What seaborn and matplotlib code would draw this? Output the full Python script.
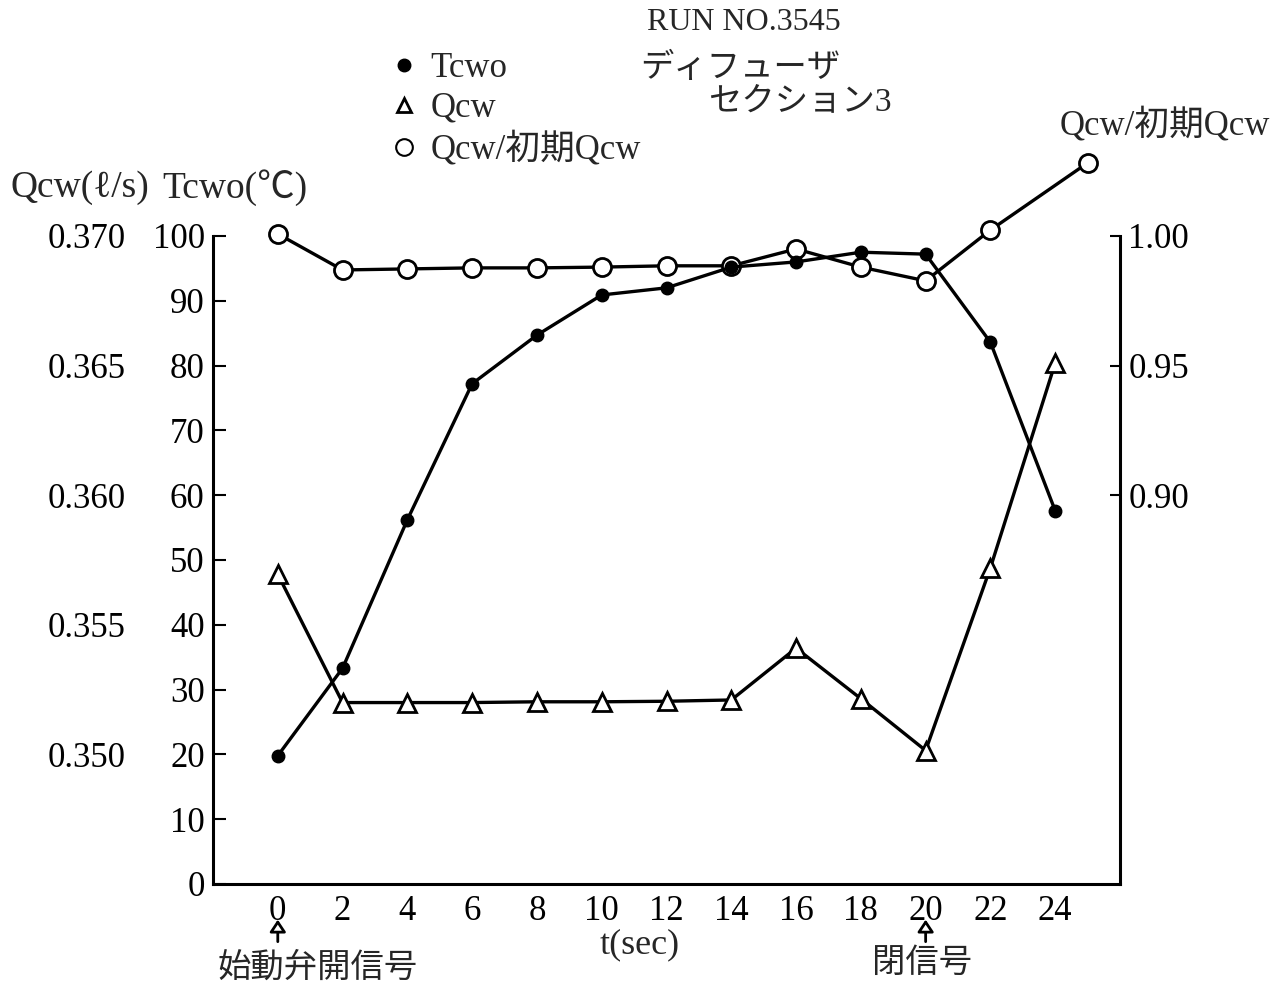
import matplotlib
matplotlib.use("Agg")
import matplotlib.pyplot as plt
from matplotlib.lines import Line2D
import seaborn as sns

# ---- data ----
t_sec = [0, 2, 4, 6, 8, 10, 12, 14, 16, 18, 20, 22, 24]
tcwo = [19.8, 33.3, 56.2, 77.2, 84.7, 90.9, 92.0, 95.2, 96.0, 97.5, 97.2, 83.6, 57.6]
qcw = [0.35695, 0.3520, 0.3520, 0.3520, 0.35203, 0.35203, 0.35205, 0.3521,
       0.3541, 0.35215, 0.35015, 0.3572, 0.3651]
t_ratio = [0, 2, 4, 6, 8, 10, 12, 14, 16, 18, 20, 22, 25]
ratio = [1.0008, 0.9869, 0.9873, 0.9877, 0.9877, 0.9880, 0.9885, 0.9885,
         0.9950, 0.9880, 0.9827, 1.0023, 1.0282]

x_ticks = list(range(0, 25, 2))
t_ticks = list(range(0, 101, 10))
q_ticks = [0.350, 0.355, 0.360, 0.365, 0.370]
r_ticks = [0.90, 0.95, 1.00]

sns.set_style("white")
FAM = ["Liberation Serif", "Noto Sans CJK JP", "DejaVu Sans"]
plt.rcParams["font.family"] = FAM
plt.rcParams["axes.unicode_minus"] = False
FS = 25

fig = plt.figure(figsize=(12.75, 9.85), dpi=100)
fig.patch.set_facecolor("white")
ax = fig.add_axes([213 / 1275, 101 / 985, (1120 - 213) / 1275, 648 / 985])
ax_q = ax.twinx()
ax_r = ax.twinx()

lw = 2.4
# Qcw (triangles)
sns.lineplot(x=t_sec, y=qcw, ax=ax_q, color="black", linewidth=lw, marker="^",
             markersize=13, markerfacecolor="white", markeredgecolor="black",
             markeredgewidth=2, clip_on=False)
# Qcw / initial Qcw (open circles)
sns.lineplot(x=t_ratio, y=ratio, ax=ax_r, color="black", linewidth=lw, marker="o",
             markersize=13, markerfacecolor="white", markeredgecolor="black",
             markeredgewidth=2, clip_on=False)
# Tcwo (filled circles)
sns.lineplot(x=t_sec, y=tcwo, ax=ax, color="black", linewidth=lw, marker="o",
             markersize=9, markerfacecolor="black", markeredgecolor="black",
             markeredgewidth=1, clip_on=False)

ax.set_zorder(ax_r.get_zorder() + 1)
ax.patch.set_visible(False)

# main axis
ax.set_xlim(-2, 26)
ax.set_ylim(0, 100)
ax.set_xticks(x_ticks)
ax.set_yticks(t_ticks)
ax.set_xticklabels([str(v) for v in x_ticks], fontsize=FS)
ax.set_yticklabels([str(v) for v in t_ticks], fontsize=FS)
ax.tick_params(axis="x", direction="in", length=7, width=1.5, pad=8, colors="black")
ax.tick_params(axis="y", direction="in", length=9, width=1.5, pad=6, colors="black")
for s in ["top", "right"]:
    ax.spines[s].set_visible(False)
for s in ["left", "bottom"]:
    ax.spines[s].set_color("black")
    ax.spines[s].set_linewidth(2.2)
ax.set_xlabel("")
ax.set_ylabel("")

# Qcw axis (labels only, far left)
ax_q.set_ylim(0.345, 0.370)
ax_q.yaxis.set_ticks_position("left")
ax_q.set_yticks(q_ticks)
ax_q.set_yticklabels([f"{v:.3f}" for v in q_ticks], fontsize=FS)
ax_q.tick_params(axis="y", length=0, pad=63, colors="black")
for s in ax_q.spines.values():
    s.set_visible(False)
ax_q.set_ylabel("")

# ratio axis (right)
ax_r.set_ylim(0.75, 1.00)
ax_r.set_yticks(r_ticks)
ax_r.set_yticklabels([f"{v:.2f}" for v in r_ticks], fontsize=FS)
ax_r.tick_params(axis="y", direction="in", length=7, width=1.5, pad=6, colors="black")
for s in ["top", "left", "bottom"]:
    ax_r.spines[s].set_visible(False)
ax_r.spines["right"].set_color("black")
ax_r.spines["right"].set_linewidth(2.2)
ax_r.set_ylabel("")

# legend
handles = [
    Line2D([], [], linestyle="none", marker="o", markersize=9, markerfacecolor="black",
           markeredgecolor="black"),
    Line2D([], [], linestyle="none", marker="^", markersize=10, markerfacecolor="white",
           markeredgecolor="black", markeredgewidth=2),
    Line2D([], [], linestyle="none", marker="o", markersize=12, markerfacecolor="white",
           markeredgecolor="black", markeredgewidth=1.5),
]
fig.legend(handles, ["Tcwo", "Qcw", "Qcw/初期Qcw"], loc="upper left",
           bbox_to_anchor=(392 / 1275, 1 - 52 / 985), frameon=False, fontsize=FS,
           handlelength=0.7, handletextpad=0.4, labelspacing=0.2, borderpad=0,
           borderaxespad=0)

# header texts
fig.text(647 / 1275, 1 - 22 / 985, "RUN NO.3545", fontsize=23, va="center", ha="left")
fig.text(640 / 1275, 1 - 68 / 985, "ディフューザ", fontsize=24, va="center", ha="left")
fig.text(708 / 1275, 1 - 102 / 985, "セクション3", fontsize=24, va="center", ha="left")

# axis titles
fig.text(80 / 1275, 1 - 188 / 985, "Qcw(ℓ/s)", fontsize=27, va="center", ha="center")
fig.text(235 / 1275, 1 - 188 / 985, "Tcwo(℃)", fontsize=27, va="center", ha="center")
fig.text(1165 / 1275, 1 - 125 / 985, "Qcw/初期Qcw", fontsize=FS, va="center", ha="center")
fig.text(640 / 1275, 1 - 945 / 985, "t(sec)", fontsize=26, va="center", ha="center")

# signal markers
for xv in [0, 20]:
    ax.annotate("", xy=(xv, -0.055), xycoords=("data", "axes fraction"),
                xytext=(xv, -0.089), textcoords=("data", "axes fraction"),
                arrowprops=dict(arrowstyle="-|>,head_length=0.45,head_width=0.3",
                                color="black", lw=2.0, mutation_scale=16, fc="white",
                                shrinkA=0, shrinkB=0),
                annotation_clip=False)
fig.text(318 / 1275, 1 - 968 / 985, "始動弁開信号", fontsize=24, va="center", ha="center")
fig.text(922 / 1275, 1 - 964 / 985, "閉信号", fontsize=24, va="center", ha="center")

fig.savefig("out.png", dpi=100, facecolor="white")
